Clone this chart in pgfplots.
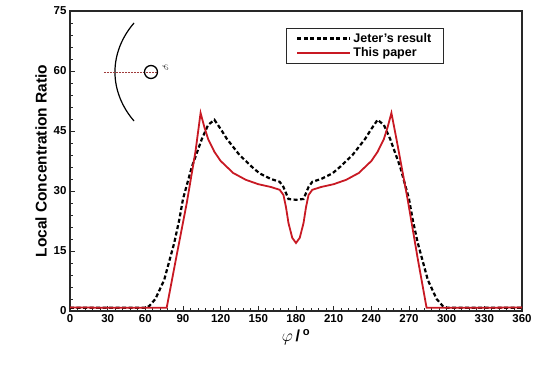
\documentclass[border=0pt]{standalone}
\usepackage{pgfplots}
\pgfplotsset{compat=1.18}
\usepackage{fontspec}
\setmainfont{Liberation Sans}
\definecolor{redline}{RGB}{200,25,35}
\definecolor{axgray}{RGB}{40,40,40}
\definecolor{dotred}{RGB}{160,60,60}
\begin{document}
\begin{tikzpicture}
\begin{axis}[
  scale only axis, width=452pt, height=300pt,
  xmin=0, xmax=360, ymin=0, ymax=75,
  xtick={0,30,60,90,120,150,180,210,240,270,300,330,360},
  ytick={0,15,30,45,60,75},
  minor x tick num=4, minor y tick num=4,
  tick align=inside, xtick pos=left, ytick pos=left,
  major tick length=5pt, minor tick length=3pt,
  tick style={axgray, line width=0.9pt},
  axis line style={axgray, line width=1.3pt},
  xticklabel={\pgfmathparse{int(\tick)}\pgfmathresult},
  yticklabel={\pgfmathparse{int(\tick)}\pgfmathresult},
  ticklabel style={font=\bfseries\fontsize{11.5}{13}\selectfont},
  ylabel={\bfseries Local Concentration Ratio},
  ylabel style={font=\fontsize{15.5}{17}\selectfont},
  xlabel={$\varphi$\,\textbf{/}\,\textsuperscript{\textbf{o}}},
  xlabel style={font=\fontsize{16}{18}\selectfont},
  legend style={draw=axgray, at={(0.478,0.943)}, anchor=north west,
    font=\bfseries\fontsize{12.5}{15}\selectfont, inner xsep=10pt, inner ysep=3pt},
  legend cell align=left,
  legend image code/.code={\draw[#1] (0pt,0pt) -- (53pt,0pt);},
]
\addplot[black, line width=2.2pt, dash pattern=on 4pt off 2.5pt] coordinates {
(0,0.8) (30,0.8) (60,0.8) (63,1.2) (68,3) (75,7.75) (83,17) (87,22.75) (90,28)
(97,36) (105,43) (110,46.5) (115,47.8) (120,45.5) (125,43) (135,39) (145,36)
(151,34.4) (160,33) (167,32.3) (170,31) (174,28) (180,27.8) (186,28) (190,31)
(193,32.3) (200,33) (209,34.4) (215,36) (225,39) (235,43) (240,45.5) (245,47.8)
(250,46.5) (255,43) (263,36) (270,28) (273,22.75) (277,17) (285,7.75) (292,3)
(297,1.2) (300,0.8) (330,0.8) (360,0.8)
};
\addlegendentry{Jeter\textquoteright s result}
\addplot[redline, line width=1.8pt] coordinates {
(0,0.9) (30,0.8) (60,0.8) (77,0.8) (85,14) (93,27) (100,40) (104,49.5)
(107,46) (110,43) (115,39.8) (120,37.5) (130,34.5) (140,32.8) (150,31.7)
(160,31) (167,30.3) (170,29) (172,26) (174,22) (177,18.3) (180,17) (183,18.3)
(186,22) (188,26) (190,29) (193,30.3) (200,31) (210,31.7) (220,32.8) (230,34.5)
(240,37.5) (245,39.8) (250,43) (253,46) (256,49.5) (260,43) (269,27.75)
(277,13) (284,0.8) (300,0.8) (330,0.8) (360,0.9)
};
\addlegendentry{This paper}
\draw[black, line width=1.2pt] (axis cs:51,72) .. controls (axis cs:41.55,68.58) and (axis cs:35.8,64.28) .. (axis cs:35.8,59.75) .. controls (axis cs:35.8,55.22) and (axis cs:41.55,50.92) .. (axis cs:51,47.5);
\draw[dotred, line width=0.5pt, densely dotted] (axis cs:27,59.75) -- (axis cs:70,59.75);
\node[draw=black, line width=1.3pt, circle, inner sep=0pt, minimum size=13pt] at (axis cs:64.5,59.75) {};
\node[rotate=-90, font=\fontsize{9}{9}\selectfont] at (axis cs:76,60.8) {$\varphi$};
\end{axis}
\pgfresetboundingbox
\path ([shift={(-70pt,-56pt)}]current axis.south west) rectangle ([shift={(18pt,11pt)}]current axis.north east);
\end{tikzpicture}
\end{document}
